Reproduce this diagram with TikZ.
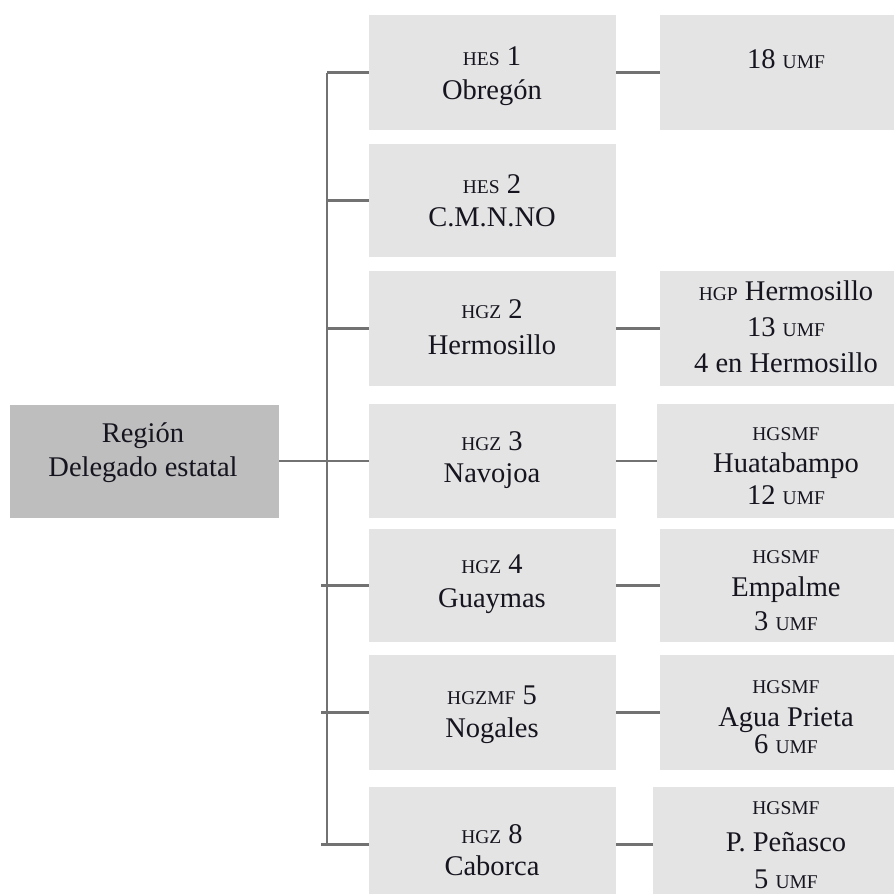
\documentclass[tikz,border=0pt]{standalone}
\usepackage{fontspec}
\setmainfont{Liberation Serif}
\definecolor{boxgray}{HTML}{E4E4E4}
\definecolor{rootgray}{HTML}{BEBEBE}
\definecolor{linkgray}{HTML}{727272}
\definecolor{inkdark}{HTML}{16141E}
% small capitals for the unit abbreviations
\newcommand\smc[1]{{\fontsize{19.5}{20}\selectfont #1}}
% centred lines; #1 is the distance between baselines
\newcommand\stack[2]{{\fontsize{28.5}{#1}\selectfont\begin{tabular}[t]{@{}c@{}}#2\end{tabular}}}
\begin{document}
\begin{tikzpicture}[x=1pt,y=-1pt,
  cell/.style={fill=boxgray, draw=none, inner sep=0pt, minimum width=247pt},
  unitcell/.style={fill=boxgray, draw=none, inner sep=0pt},
  rootcell/.style={fill=rootgray, draw=none, inner sep=0pt, minimum width=269pt, minimum height=113pt},
  txt/.style={anchor=base, inner sep=0pt, text=inkdark},
  link/.style={draw=linkgray, line width=2.8pt}]
\useasboundingbox (0,0) rectangle (894,894);

% root
\node[rootcell] (root) at (144.5,461) {};

% hospitals
\node[cell, minimum height=115pt] (m1) at (492.5,72.5) {};
\node[cell, minimum height=113pt] (m2) at (492.5,200.5) {};
\node[cell, minimum height=115pt] (m3) at (492.5,328.5) {};
\node[cell, minimum height=114pt] (m4) at (492.5,461) {};
\node[cell, minimum height=113pt] (m5) at (492.5,585.5) {};
\node[cell, minimum height=115pt] (m6) at (492.5,712.5) {};
\node[cell, minimum height=115pt] (m7) at (492.5,844.5) {};

% units
\node[unitcell, minimum width=252pt, minimum height=115pt] (r1) at (786,72.5) {};
\node[unitcell, minimum width=252pt, minimum height=115pt] (r3) at (786,328.5) {};
\node[unitcell, minimum width=255pt, minimum height=114pt] (r4) at (784.5,461) {};
\node[unitcell, minimum width=252pt, minimum height=113pt] (r5) at (786,585.5) {};
\node[unitcell, minimum width=252pt, minimum height=115pt] (r6) at (786,712.5) {};
\node[unitcell, minimum width=259pt, minimum height=115pt] (r7) at (782.5,844.5) {};

% connectors
\path (327,0) coordinate (trunkx) (321,0) coordinate (stubx);
\draw[link] (m1.west -| trunkx) -- (m7.west -| trunkx);
\draw[link] (root.east) -- (m4.west);
\foreach \i in {1,2,3}
  \draw[link] (m\i.west -| trunkx) -- (m\i.west);
\foreach \i in {5,6,7}
  \draw[link] (m\i.west -| stubx) -- (m\i.west);
\foreach \i in {1,3,4,5,6,7}
  \draw[link] (m\i.east) -- (r\i.west);

% labels
\node[txt] (roott) at (143,442) {\stack{34}{Región\\Delegado estatal}};
\node[txt] (m1t) at (492,65)  {\stack{34}{\smc{HES} 1\\Obregón}};
\node[txt] (m2t) at (492,193) {\stack{33}{\smc{HES} 2\\C.M.N.NO}};
\node[txt] (m3t) at (492,318) {\stack{36}{\smc{HGZ} 2\\Hermosillo}};
\node[txt] (m4t) at (492,450) {\stack{32}{\smc{HGZ} 3\\Navojoa}};
\node[txt] (m5t) at (492,573) {\stack{34}{\smc{HGZ} 4\\Guaymas}};
\node[txt] (m6t) at (492,704) {\stack{33}{\smc{HGZMF} 5\\Nogales}};
\node[txt] (m7t) at (492,843) {\stack{32}{\smc{HGZ} 8\\Caborca}};

\node[txt] (r1t) at (786,68)  {\stack{34}{18 \smc{UMF}}};
\node[txt] (r3t) at (786,300) {\stack{36}{\smc{HGP} Hermosillo\\13 \smc{UMF}\\4 en Hermosillo}};
\node[txt] (r4t) at (786,440) {\stack{32}{\smc{HGSMF}\\Huatabampo\\12 \smc{UMF}}};
\node[txt] (r5t) at (786,563) {\stack{33.5}{\smc{HGSMF}\\Empalme\\3 \smc{UMF}}};
\node[txt] (r6t) at (786,693) {\stack{33}{\smc{HGSMF}\\Agua Prieta\\[-6pt]6 \smc{UMF}}};
\node[txt] (r7t) at (786,814) {\stack{37}{\smc{HGSMF}\\P. Peñasco\\5 \smc{UMF}}};
\end{tikzpicture}
\end{document}
